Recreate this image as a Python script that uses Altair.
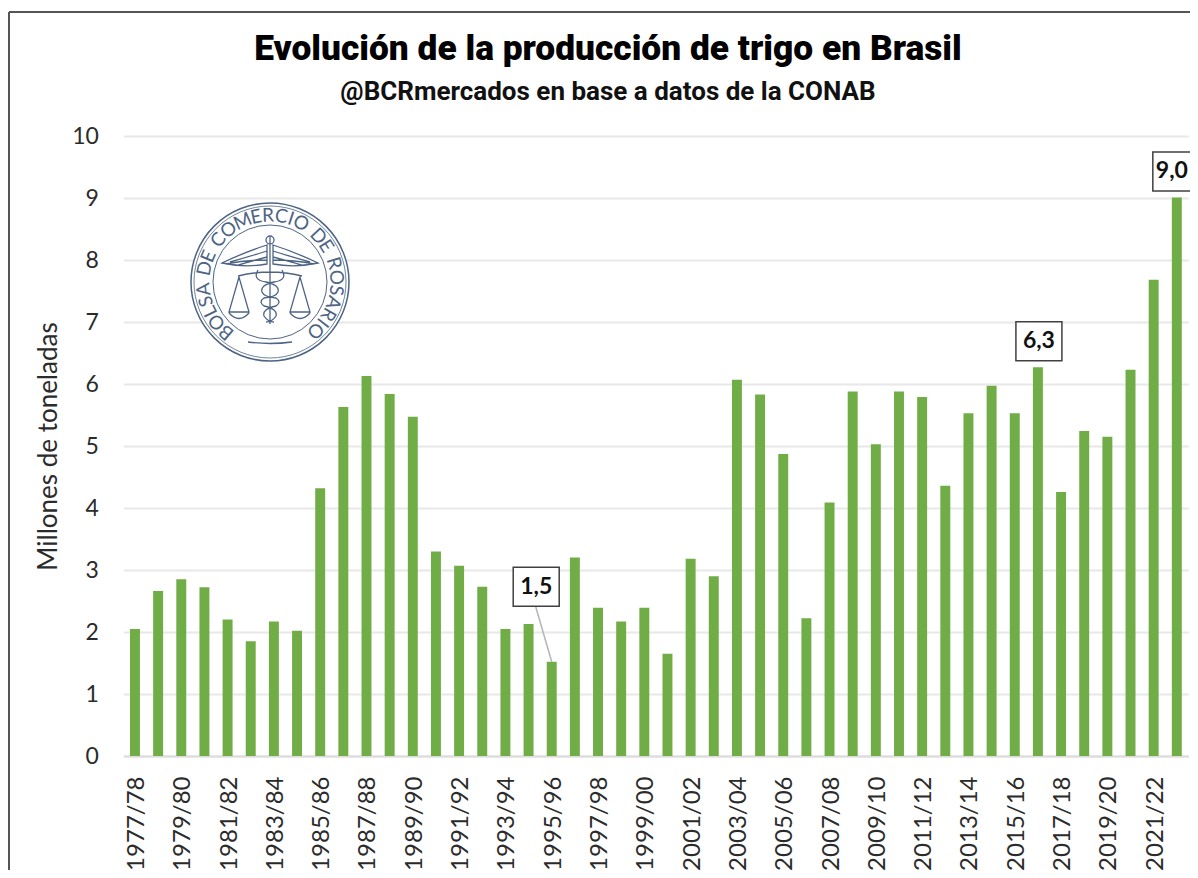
import math
import altair as alt
import pandas as pd

seasons = ["1977/78","1978/79","1979/80","1980/81","1981/82","1982/83","1983/84","1984/85",
           "1985/86","1986/87","1987/88","1988/89","1989/90","1990/91","1991/92","1992/93",
           "1993/94","1994/95","1995/96","1996/97","1997/98","1998/99","1999/00","2000/01",
           "2001/02","2002/03","2003/04","2004/05","2005/06","2006/07","2007/08","2008/09",
           "2009/10","2010/11","2011/12","2012/13","2013/14","2014/15","2015/16","2016/17",
           "2017/18","2018/19","2019/20","2020/21","2021/22","2022/23"]
production = [2.05,2.66,2.85,2.72,2.2,1.85,2.17,2.02,
              4.32,5.63,6.13,5.84,5.47,3.3,3.07,2.73,
              2.05,2.13,1.52,3.2,2.39,2.17,2.39,1.65,
              3.18,2.9,6.07,5.83,4.87,2.22,4.09,5.88,
              5.03,5.88,5.79,4.36,5.53,5.97,5.53,6.27,
              4.26,5.24,5.15,6.23,7.68,9.01]
axis_seasons = seasons[::2]
mid_seasons = ["2016/17"]
mid_values = [6.27]
mid_labels = ["6,3"]
top_seasons = ["2022/23"]
top_values = [9.01]
top_labels = ["9,0"]
leader_seasons = ["1995/96"]
leader_values = [1.52]
leader_labels = ["1,5"]
title_text = "Evolución de la producción de trigo en Brasil"
subtitle_text = "@BCRmercados en base a datos de la CONAB"
y_title = "Millones de toneladas"
seal_text = "BOLSA DE COMERCIO DE ROSARIO"

FONT = "Lato"
TITLE_FONT = "Roboto"
GREEN = "#70ad47"
SEAL = "#4d6485"
TEXT = "#2b2b2b"

x_scale = alt.Scale(domain=seasons, paddingInner=0.57, paddingOuter=0.285)
df = pd.DataFrame({"season": seasons, "value": production})

bars = alt.Chart(df).mark_bar(color=GREEN).encode(
    x=alt.X("season:N", scale=x_scale, sort=seasons, title=None,
            axis=alt.Axis(values=axis_seasons, labelAngle=-90, labelFont=FONT, labelFontSize=24,
                          labelColor=TEXT, labelPadding=20, labelOffset=2, labelOverlap=False, ticks=False,
                          domainColor="#dcdcdc", domainWidth=2, grid=False)),
    y=alt.Y("value:Q", scale=alt.Scale(domain=[0, 10], nice=False), title=y_title,
            axis=alt.Axis(values=list(range(0, 11)), format="d", labelFont=FONT, labelFontSize=23,
                          labelColor=TEXT, labelPadding=25, ticks=False, domain=False,
                          gridColor="#e8e8e8", gridWidth=2, titleFont=FONT, titleFontSize=26,
                          titleFontWeight="normal", titleColor=TEXT, titlePadding=10)),
)

# Frame of the picture (left and top edges)
frame_left = alt.Chart().mark_rule(color="#555555", strokeWidth=2).encode(
    x=alt.value(-114.4), y=alt.value(-124), y2=alt.value(740))
frame_top = alt.Chart().mark_rule(color="#555555", strokeWidth=2).encode(
    x=alt.value(-114.4), x2=alt.value(1080), y=alt.value(-124))

# Titles
title = alt.Chart().mark_text(text=title_text, font=TITLE_FONT, fontWeight=900, fontSize=35.3,
                              color="#000000", align="center", baseline="middle").encode(
    x=alt.value(484.6), y=alt.value(-87))
subtitle = alt.Chart().mark_text(text=subtitle_text, font=TITLE_FONT, fontWeight=700, fontSize=26,
                                 color="#111111", align="center", baseline="middle").encode(
    x=alt.value(484.6), y=alt.value(-44))

# Seal
cx, cy = 270 - 123.4, 282 - 136
seal_df = pd.DataFrame({"px": [cx], "py": [cy]})
seal_x = alt.X("px:Q", scale=None, axis=None)
seal_y = alt.Y("py:Q", scale=None, axis=None)
seal_fill = alt.Chart(seal_df).mark_point(shape="circle", size=(2 * 79) ** 2, filled=True,
                                          fill="#ffffff", opacity=1).encode(x=seal_x, y=seal_y)
rings = [
    alt.Chart(seal_df).mark_point(shape="circle", size=(2 * r) ** 2, filled=False, color=SEAL,
                                  strokeWidth=w, opacity=1).encode(x=seal_x, y=seal_y)
    for r, w in [(79, 1.5), (76, 0.8), (57, 1.0)]
]
emblem_path = (
    "M -48 -19 Q -25 -30 -3 -37 L -3 -18 Q -25 -14 -48 -19 Z "
    "M -40 -20 Q -22 -25 -3 -31 M -32 -17 Q -18 -21 -3 -25 M -44 -18 Q -25 -22 -3 -22 "
    "M 48 -19 Q 25 -30 3 -37 L 3 -18 Q 25 -14 48 -19 Z "
    "M 40 -20 Q 22 -25 3 -31 M 32 -17 Q 18 -21 3 -25 M 44 -18 Q 25 -22 3 -22 "
    "M 0 -45 L 0 42 M -4 -42 A 4 4 0 1 1 4 -42 A 4 4 0 1 1 -4 -42 "
    "M -32 -6 Q 0 -14 32 -6 "
    "M -31 -5 L -41 30 L -21 30 Z M 30 -5 L 20 30 L 40 30 Z "
    "M -41 31 Q -31 42 -21 31 M 20 31 Q 30 42 40 31 "
    "M 12 -12 Q 18 -2 4 0 Q -10 3 -8 10 Q -6 15 6 16 Q 12 20 6 24 Q -8 27 -6 34 Q -2 40 4 40 "
    "M -12 -12 Q -18 -2 -4 0 Q 10 3 8 10 Q 6 15 -6 16 Q -12 20 -6 24 Q 8 27 6 34 Q 2 40 -4 40 "
    "M -22 60 Q 0 63 22 60"
)
emblem = alt.Chart(seal_df).mark_point(shape=emblem_path, size=4, filled=False, color=SEAL,
                                       strokeWidth=1.3, opacity=1).encode(x=seal_x, y=seal_y)
# Letters follow the ring; narrow glyphs and spaces take a smaller share of the arc
glyph_share = {" ": 0.55, "I": 0.5, "L": 0.8, "E": 0.85, "S": 0.85, "M": 1.35, "O": 1.2, "C": 1.05, "D": 1.1, "R": 1.0, "A": 1.05, "B": 0.95, "N": 1.1}
shares = [glyph_share.get(ch, 1.0) for ch in seal_text]
start, sweep, radius = 221.0, 276.0, 66.5
total = sum(shares) - (shares[0] + shares[-1]) / 2
letter_rows = []
run = 0.0
for i, ch in enumerate(seal_text):
    if i:
        run += (shares[i - 1] + shares[i]) / 2
    a = start + sweep * run / total
    rad = math.radians(a)
    letter_rows.append({"px": cx + radius * math.sin(rad), "py": cy - radius * math.cos(rad),
                        "rot": a % 360, "ch": ch})
letters = alt.Chart(pd.DataFrame(letter_rows)).mark_text(
    font=FONT, fontSize=19, color=SEAL, align="center", baseline="middle").encode(
    x=seal_x, y=seal_y, text="ch:N", angle=alt.Angle("rot:Q", scale=None))

# Call-outs
BOX = "M -23 -19.5 H 23 V 19.5 H -23 Z"
BOX_EDGE = "M -19 -19.5 H 30 V 19.5 H -19 Z"
mid_df = pd.DataFrame({"season": mid_seasons, "value": mid_values, "label": mid_labels})
top_df = pd.DataFrame({"season": top_seasons, "value": top_values, "label": top_labels})
leader_df = pd.DataFrame({"season": leader_seasons, "value": leader_values, "label": leader_labels})
enc = dict(x=alt.X("season:N", scale=x_scale, sort=seasons),
           y=alt.Y("value:Q", scale=alt.Scale(domain=[0, 10], nice=False)))


def callout(data, dx, dy, shape=BOX):
    box = alt.Chart(data).mark_point(shape=shape, size=4, filled=True, fill="#ffffff", stroke="#404040",
                                     strokeWidth=1.5, opacity=1, xOffset=dx, yOffset=dy).encode(**enc)
    txt = alt.Chart(data).mark_text(font=FONT, fontWeight="bold", fontSize=23, color="#111111",
                                    dx=dx, dy=dy, baseline="middle").encode(text="label:N", **enc)
    return [box, txt]


leader_line = alt.Chart(leader_df).mark_point(shape="M 0 0 L -16 -55", size=4, filled=False, color="#b5b5b5",
                                              strokeWidth=1.5, opacity=1).encode(**enc)

chart = alt.layer(
    bars, frame_left, frame_top, title, subtitle, seal_fill, *rings, emblem, letters,
    *callout(mid_df, 1, -26), *callout(top_df, -5, -26, BOX_EDGE), leader_line, *callout(leader_df, -15.5, -75),
).properties(
    width=1065, height=620, background="#ffffff",
    autosize=alt.AutoSizeParams(type="none"),
    padding={"left": 115.4, "top": 128, "right": 1.6, "bottom": 114},
).configure_view(stroke=None)

chart.save("out.html", embed_options={"renderer": "svg", "actions": False})
